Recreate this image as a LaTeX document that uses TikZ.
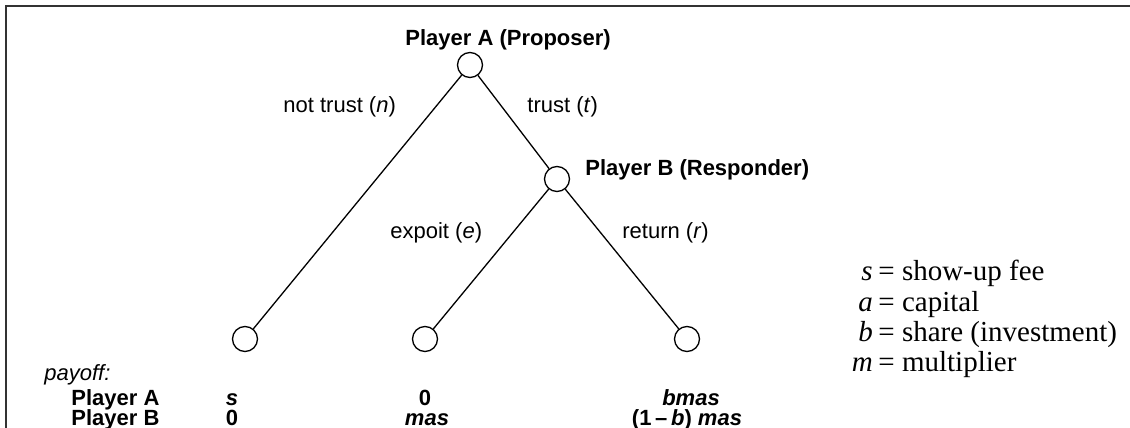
\documentclass[tikz,border=0pt]{standalone}
\usepackage{fontspec}
\setmainfont{Liberation Sans}
\newfontfamily\legendfont{Liberation Serif}
\begin{document}
\begin{tikzpicture}[x=0.5pt,y=-0.5pt,
  dnode/.style={circle,draw,line width=0.65pt,minimum size=12.5pt,inner sep=0pt},
  edge/.style={line width=0.65pt},
  frameline/.style={line width=0.8pt,draw=black!80},
  lab/.style={anchor=base west,inner sep=0pt,font=\fontsize{11}{13}\selectfont},
  blab/.style={lab,font=\fontsize{11}{13}\selectfont\bfseries},
  pay/.style={anchor=base,inner sep=0pt,font=\fontsize{11}{13}\selectfont\bfseries},
  leg/.style={anchor=base west,inner sep=0pt,font=\fontsize{14.5}{16}\selectfont\legendfont},
  legv/.style={anchor=base east,inner sep=0pt,font=\fontsize{14.5}{16}\selectfont\legendfont}]
\useasboundingbox (0,0) rectangle (1130,428);
% frame
\coordinate (fTL) at (6,6);
\coordinate (fTR) at (1130,6);
\coordinate (fBL) at (6,428);
\draw[frameline] (fTR) -- (fTL) -- (fBL);
% decision nodes
\node[dnode] (A) at (470,65) {};
\node[dnode] (B) at (557,179) {};
\node[dnode] (L1) at (245,339) {};
\node[dnode] (L2) at (425,339) {};
\node[dnode] (L3) at (687,339) {};
\draw[edge] (A) -- (L1);
\draw[edge] (A) -- (B);
\draw[edge] (B) -- (L2);
\draw[edge] (B) -- (L3);
% player labels
\node[blab] (tA) at (405,45) {Player A (Proposer)};
\node[blab] (tB) at (585,175) {Player B (Responder)};
% edge labels
\node[lab] (ln) at (283,112) {not trust (\textit{n})};
\node[lab] (lt) at (527,112) {trust (\textit{t})};
\node[lab] (le) at (390,238) {expoit (\textit{e})};
\node[lab] (lr) at (622,238) {return (\textit{r})};
% payoffs
\node[lab] (pay) at (44,380) {\textit{payoff:}};
\node[blab] (pA) at (71,405) {Player A};
\node[blab] (pB) at (71,425) {Player B};
\node[pay] (p1A) at (232,405) {\textit{s}};
\node[pay] (p1B) at (232,425) {0};
\node[pay] (p2A) at (425,405) {0};
\node[pay] (p2B) at (427,425) {\textit{mas}};
\node[pay] (p3A) at (691,405) {\textit{bmas}};
\node[pay] (p3B) at (687,425) {(1\,\textendash\,\textit{b}) \textit{mas}};
% legend
\node[legv] (vs) at (878,280) {\textit{s}\,};
\node[leg] (ds) at (878,280) {= show-up fee};
\node[legv] (va) at (878,311) {\textit{a}\,};
\node[leg] (da) at (878,311) {= capital};
\node[legv] (vb) at (878,341) {\textit{b}\,};
\node[leg] (db) at (878,341) {= share (investment)};
\node[legv] (vm) at (878,371) {\textit{m}\,};
\node[leg] (dm) at (878,371) {= multiplier};
\end{tikzpicture}
\end{document}
